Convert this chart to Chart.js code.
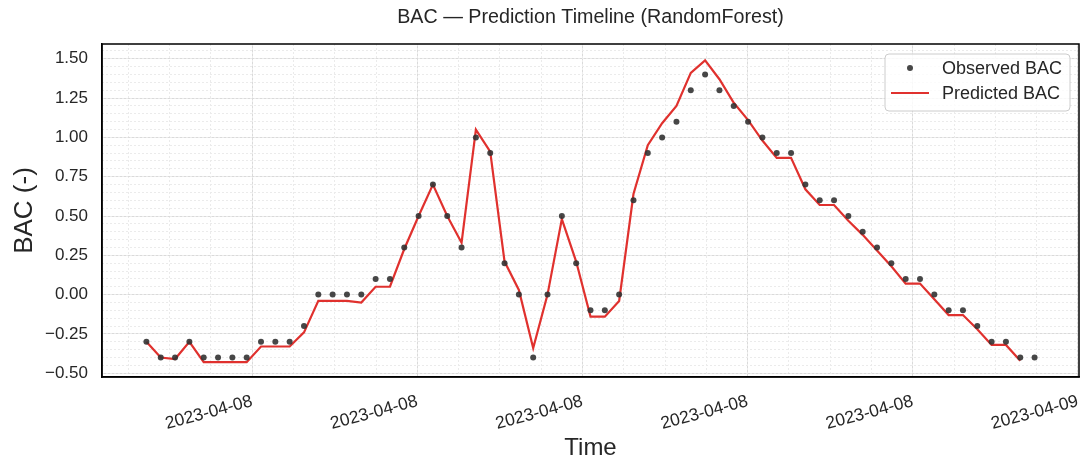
<!DOCTYPE html>
<html>
<head>
<meta charset="utf-8">
<script src="https://cdn.jsdelivr.net/npm/chart.js@4.4.1/dist/chart.umd.min.js"></script>
<style>
  html, body { margin: 0; padding: 0; background: #fff; }
  #wrap { width: 1083px; height: 464px; }
</style>
</head>
<body>
<div id="wrap"><canvas id="chart1"></canvas></div>
<script>
// observed BAC, one value per time step
const observed = [
    -0.3, -0.4, -0.4, -0.3, -0.4, -0.4, -0.4, -0.4, -0.3, -0.3, -0.3, -0.2, 0, 0, 0, 0, 0.1, 0.1, 0.3, 0.5,
    0.7, 0.5, 0.3, 1.0, 0.9, 0.2, 0.0, -0.4, 0.0, 0.5, 0.2, -0.1, -0.1, 0.0, 0.6, 0.9, 1.0, 1.1, 1.3, 1.4, 1.3,
    1.2, 1.1, 1.0, 0.9, 0.9, 0.7, 0.6, 0.6, 0.5, 0.4, 0.3, 0.2, 0.1, 0.1, 0.0, -0.1, -0.1, -0.2, -0.3, -0.3, -0.4, -0.4
];
// RandomForest prediction (no value for the last step)
const predicted = [
    -0.30, -0.40, -0.41, -0.30, -0.43, -0.43, -0.43, -0.43, -0.33, -0.33, -0.33, -0.24, -0.04, -0.04, -0.04, -0.05, 0.05, 0.05, 0.29, 0.50,
    0.70, 0.50, 0.33, 1.05, 0.91, 0.21, 0.03, -0.34, 0.00, 0.48, 0.21, -0.14, -0.14, -0.04, 0.64, 0.95, 1.09, 1.20, 1.41, 1.49, 1.37,
    1.22, 1.11, 0.98, 0.87, 0.87, 0.67, 0.57, 0.57, 0.47, 0.38, 0.28, 0.18, 0.07, 0.07, -0.03, -0.13, -0.13, -0.22, -0.32, -0.32, -0.42
];
// x ticks (in time-step units) and their labels
const xTickPos = [7.38, 18.91, 30.44, 41.97, 53.50, 65.03];
const xTickLabels = ['2023-04-08', '2023-04-08', '2023-04-08', '2023-04-08', '2023-04-08', '2023-04-09'];
const yTicks = [-0.5, -0.25, 0, 0.25, 0.5, 0.75, 1.0, 1.25, 1.5];
const titleText = 'BAC \u2014 Prediction Timeline (RandomForest)';

const FONT = "'Liberation Sans', Arial, sans-serif";
const TEXT = '#262626';
const RED = '#e0312e';
const DOT = 'rgba(51,51,51,0.9)';

// minor ticks: 4 per major step on x, every 0.05 on y
const xStep = (xTickPos[1] - xTickPos[0]) / 4;
const xMinor = [];
for (let v = xTickPos[0] - 3 * xStep; v < 65.1; v += xStep) xMinor.push(v);
const yMinor = [];
for (let k = -10; k <= 31; k++) yMinor.push(k * 0.05);

// keep the plot box fixed, whatever the rotated labels want
function noPad(s) {
    s.paddingLeft = 0;
    s.paddingRight = 0;
    s.paddingTop = 0;
    s.paddingBottom = 0;
}

const boxPlugin = {
    id: 'boxAndLegend',
    afterDraw(chart) {
        const ctx = chart.ctx;
        const a = chart.chartArea;
        ctx.save();
        ctx.strokeStyle = '#000';
        ctx.lineWidth = 1.5;
        ctx.strokeRect(a.left, a.top, a.right - a.left, a.bottom - a.top);

        // title centred over the plot area
        ctx.fillStyle = TEXT;
        ctx.font = '19.7px ' + FONT;
        ctx.textAlign = 'center';
        ctx.textBaseline = 'middle';
        ctx.fillText(titleText, (a.left + a.right) / 2, 18);

        // legend box, upper right
        const w = 185, h = 57;
        const x0 = a.right - 9 - w, y0 = a.top + 10;
        ctx.beginPath();
        ctx.roundRect(x0, y0, w, h, 4);
        ctx.fillStyle = 'rgba(255,255,255,0.8)';
        ctx.fill();
        ctx.strokeStyle = '#cccccc';
        ctx.lineWidth = 1;
        ctx.stroke();

        ctx.fillStyle = DOT;
        ctx.beginPath();
        ctx.arc(x0 + 25, y0 + 14, 3, 0, Math.PI * 2);
        ctx.fill();
        ctx.strokeStyle = RED;
        ctx.lineWidth = 2.2;
        ctx.beginPath();
        ctx.moveTo(x0 + 6, y0 + 39);
        ctx.lineTo(x0 + 44, y0 + 39);
        ctx.stroke();

        ctx.fillStyle = TEXT;
        ctx.font = '18px ' + FONT;
        ctx.textAlign = 'left';
        ctx.fillText('Observed BAC', x0 + 57, y0 + 15);
        ctx.fillText('Predicted BAC', x0 + 57, y0 + 40);
        ctx.restore();
    }
};

let myChart = document.getElementById('chart1').getContext('2d');
let chart1 = new Chart(myChart, {
    type: 'scatter',
    data: {
        datasets: [{
            label: 'Observed BAC',
            data: observed.map((v, i) => ({ x: i, y: v })),
            backgroundColor: DOT,
            borderWidth: 0,
            pointRadius: 3,
            order: 0
        }, {
            type: 'line',
            label: 'Predicted BAC',
            data: predicted.map((v, i) => ({ x: i, y: v })),
            borderColor: RED,
            borderWidth: 2.2,
            pointRadius: 0,
            tension: 0,
            fill: false,
            order: 1
        }]
    },
    options: {
        responsive: true,
        maintainAspectRatio: false,
        animation: false,
        layout: { padding: { top: 44, right: 3, bottom: 0, left: 0 } },
        plugins: {
            legend: { display: false },
            tooltip: { enabled: false },
            title: { display: false }
        },
        scales: {
            x: {
                type: 'linear',
                min: -3.1,
                max: 65.1,
                afterBuildTicks: s => { s.ticks = xTickPos.map(v => ({ value: v })); },
                afterFit: s => { s.height = 87; noPad(s); },
                ticks: {
                    autoSkip: false,
                    minRotation: 15,
                    maxRotation: 15,
                    padding: 14,
                    color: TEXT,
                    font: { size: 17.5, family: FONT },
                    callback: (v, i) => xTickLabels[i]
                },
                grid: { color: '#dadada', lineWidth: 1, drawTicks: false },
                border: { display: true, color: '#000', width: 1.5 },
                title: {
                    display: true,
                    text: 'Time',
                    color: TEXT,
                    font: { size: 24, family: FONT },
                    padding: { top: 0, bottom: 1 }
                }
            },
            xMinor: {
                type: 'linear',
                position: 'bottom',
                min: -3.1,
                max: 65.1,
                afterBuildTicks: s => { s.ticks = xMinor.map(v => ({ value: v })); },
                afterFit: s => { s.height = 0; noPad(s); },
                ticks: { display: false },
                grid: { color: '#ebebeb', lineWidth: 1, drawTicks: false },
                border: { display: false, dash: [2, 2] }
            },
            y: {
                min: -0.524,
                max: 1.594,
                afterBuildTicks: s => { s.ticks = yTicks.map(v => ({ value: v })); },
                afterFit: s => { s.width = 102; noPad(s); },
                ticks: {
                    padding: 14,
                    color: TEXT,
                    font: { size: 17, family: FONT },
                    callback: v => v.toFixed(2).replace('-', '\u2212')
                },
                grid: { color: '#dadada', lineWidth: 1, drawTicks: false },
                border: { display: true, color: '#000', width: 1.5 },
                title: {
                    display: true,
                    text: 'BAC (-)',
                    color: TEXT,
                    font: { size: 26, family: FONT },
                    padding: { top: 9, bottom: 0 }
                }
            },
            yMinor: {
                position: 'left',
                min: -0.524,
                max: 1.594,
                afterBuildTicks: s => { s.ticks = yMinor.map(v => ({ value: v })); },
                afterFit: s => { s.width = 0; noPad(s); },
                ticks: { display: false },
                grid: { color: '#ebebeb', lineWidth: 1, drawTicks: false },
                border: { display: false, dash: [2, 2] }
            }
        }
    },
    plugins: [boxPlugin]
});
</script>
</body>
</html>
